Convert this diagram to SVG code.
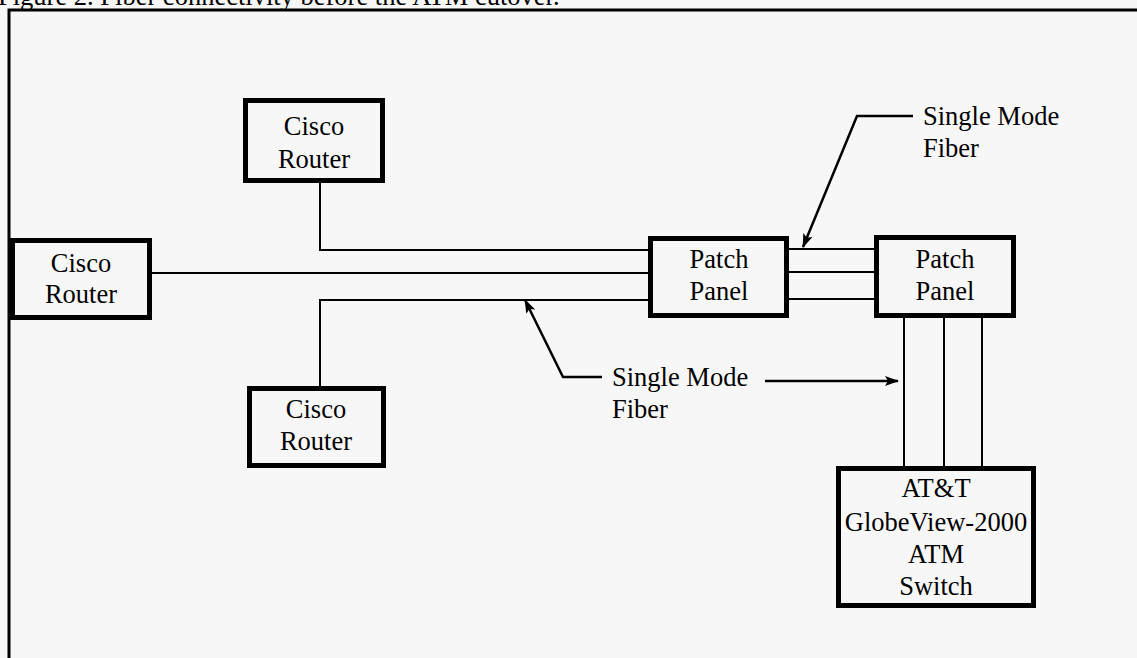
<svg xmlns="http://www.w3.org/2000/svg" width="1137" height="658" viewBox="0 0 1137 658">
<style>
.bg{fill:#f7f7f7}
.box{fill:#f7f7f7;stroke:#000;stroke-width:5}
.t{font-family:"Liberation Serif","Times New Roman",serif;font-size:26.5px;fill:#000}
.c{text-anchor:middle}
.ln{fill:none;stroke:#000;stroke-width:2}
.ld{fill:none;stroke:#000;stroke-width:2.5}
</style>
<defs>
<marker id="ah" markerUnits="userSpaceOnUse" markerWidth="16" markerHeight="12" refX="13" refY="5" orient="auto">
<path d="M0,0 L14,5 L0,10 L3,5 z" fill="#000"/>
</marker>
</defs>
<rect class="bg" x="0" y="0" width="1137" height="658"/>
<text class="t" x="-2" y="5">Figure 2. Fiber connectivity before the ATM cutover.</text>
<path d="M9 658 V10 H1137" fill="none" stroke="#000" stroke-width="3"/>
<g id="connectors">
<path class="ln" d="M320 183 V250 H648"/>
<path class="ln" d="M152 273 H648"/>
<path class="ln" d="M320 387 V300 H648"/>
<path class="ln" d="M789 249 H874"/>
<path class="ln" d="M789 272 H874"/>
<path class="ln" d="M789 299 H874"/>
<path class="ln" d="M904 318 V466"/>
<path class="ln" d="M944 318 V466"/>
<path class="ln" d="M982 318 V466"/>
<path class="ld" d="M913 116 H857 L803 247" marker-end="url(#ah)"/>
<path class="ld" d="M602 377 H563 L525 300" marker-end="url(#ah)"/>
<path class="ld" d="M765 381 H898" marker-end="url(#ah)"/>
</g>
<g id="router-top">
<rect class="box" x="245.5" y="100.5" width="137" height="80"/>
<text class="t c" x="314" y="135">Cisco</text>
<text class="t c" x="314" y="168">Router</text>
</g>
<g id="router-left">
<rect class="box" x="12.5" y="240.5" width="137" height="77"/>
<text class="t c" x="81" y="272">Cisco</text>
<text class="t c" x="81" y="303">Router</text>
</g>
<g id="router-bottom">
<rect class="box" x="249.5" y="388.5" width="134" height="77"/>
<text class="t c" x="316" y="418">Cisco</text>
<text class="t c" x="316" y="450">Router</text>
</g>
<g id="patch-1">
<rect class="box" x="650.5" y="238.5" width="136" height="77"/>
<text class="t c" x="719" y="268">Patch</text>
<text class="t c" x="719" y="300">Panel</text>
</g>
<g id="patch-2">
<rect class="box" x="876.5" y="237.5" width="137" height="78"/>
<text class="t c" x="945" y="268">Patch</text>
<text class="t c" x="945" y="300">Panel</text>
</g>
<g id="atm-switch">
<rect class="box" x="838.5" y="468.5" width="195" height="137"/>
<text class="t c" x="936" y="497">AT&amp;T</text>
<text class="t c" x="936" y="531">GlobeView-2000</text>
<text class="t c" x="936" y="563">ATM</text>
<text class="t c" x="936" y="595">Switch</text>
</g>
<g id="label-upper">
<text class="t" x="923" y="125">Single Mode</text>
<text class="t" x="923" y="157">Fiber</text>
</g>
<g id="label-lower">
<text class="t" x="612" y="386">Single Mode</text>
<text class="t" x="612" y="418">Fiber</text>
</g>
</svg>
